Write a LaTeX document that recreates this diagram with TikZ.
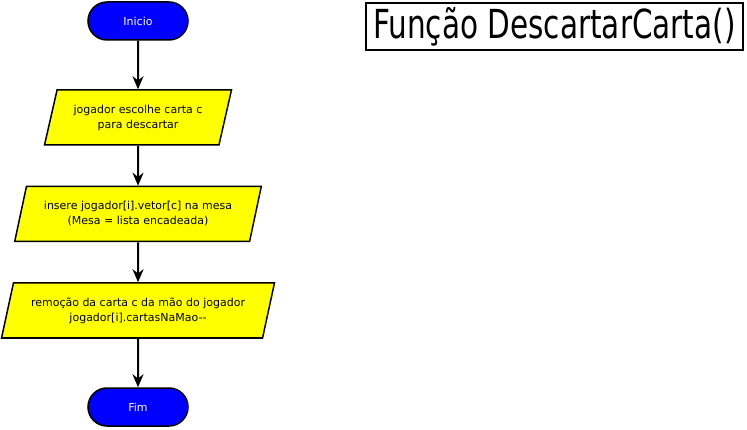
\documentclass[tikz,border=0pt]{standalone}
\usepackage{fontspec}
\usepackage{graphicx}
\setmainfont{DejaVu Sans}
\newfontfamily\titlefont{DejaVu Sans Condensed}
\usetikzlibrary{shapes,arrows.meta}
\definecolor{termblue}{RGB}{0,0,255}
\definecolor{ioyellow}{RGB}{255,255,0}
\tikzstyle{terminal} = [draw, line width=1.5pt, fill=termblue, text=white, rounded corners=19pt, minimum width=100pt, minimum height=38pt, font=\fontsize{11}{15}\selectfont]
\tikzstyle{io} = [draw, line width=1.5pt, fill=ioyellow, trapezium, trapezium left angle=72, trapezium right angle=108, trapezium stretches=true, minimum height=55pt, align=center, font=\fontsize{11}{15}\selectfont]

\begin{document}
\begin{tikzpicture}[->,>={Stealth[length=13pt,width=11pt]},line width=2pt,node distance=96.5pt]
\useasboundingbox (0,0) rectangle (747pt,-430pt);

\node[terminal] (inicio) at (138pt,-21pt) {Inicio};
\node[io, minimum width=187pt, below of = inicio] (escolhe) [] {jogador escolhe carta c\\para descartar};
\node[io, minimum width=247pt, below of = escolhe] (insere) [] {insere jogador[i].vetor[c] na mesa\\(Mesa = lista encadeada)};
\node[io, minimum width=273pt, below of = insere] (remove) [] {remoção da carta c da mão do jogador\\jogador[i].cartasNaMao-{}-};
\node[terminal, below of = remove] (fim) [] {Fim};

\node[draw, line width=2pt, minimum width=377pt, minimum height=47pt, inner xsep=0pt, font=\titlefont\fontsize{40}{44}\selectfont] (titulo) at (554.5pt,-26.5pt) {\scalebox{0.82}[1]{Função DescartarCarta()}};

\path
(inicio) edge [] node {} (escolhe)
(escolhe) edge [] node {} (insere)
(insere) edge [] node {} (remove)
(remove) edge [] node {} (fim);

\end{tikzpicture}
\end{document}
